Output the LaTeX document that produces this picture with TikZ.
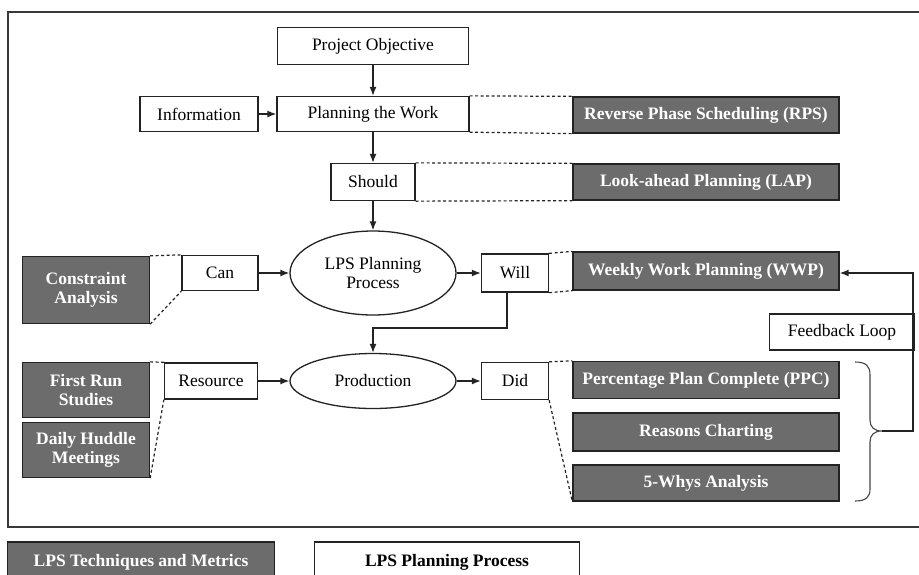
\documentclass[tikz,border=0pt]{standalone}
\usepackage{fontspec}
\setmainfont{Liberation Serif}
\usetikzlibrary{shapes.geometric,arrows.meta}
\definecolor{boxgray}{RGB}{108,108,108}
\definecolor{edgedark}{RGB}{35,35,35}
\tikzset{
  every node/.style={font=\fontsize{17.5}{19.5}\selectfont},
  wbox/.style={draw=edgedark, line width=1.3pt, fill=white, inner sep=0pt, text=black},
  gbox/.style={draw=edgedark, line width=1.3pt, fill=boxgray, inner sep=0pt, text=white, font=\fontsize{17.5}{19.5}\selectfont\bfseries},
  oval/.style={ellipse, draw=edgedark, line width=1.3pt, fill=white, inner sep=0pt, align=center},
  arr/.style={-{Latex[length=9pt,width=7pt]}, line width=1.4pt, draw=edgedark},
  dl/.style={line width=1.2pt, draw=edgedark, dash pattern=on 3pt off 2.5pt},
  frame/.style={line width=1.6pt, draw=edgedark!90},
  bracestyle/.style={line width=1.1pt, draw=edgedark!85},
}
\begin{document}
\begin{tikzpicture}[x=1pt,y=-1pt]
\useasboundingbox (0,0) rectangle (919,574);
\clip (0,0) rectangle (919,574);
% outer frame
\draw[frame] (919,12) -- (8,12) -- (8,527) -- (919,527);
% nodes
\node[wbox, minimum width=191, minimum height=37] (po) at (373,46) {Project Objective};
\node[wbox, minimum width=118, minimum height=35] (info) at (199,114) {Information};
\node[wbox, minimum width=192, minimum height=35] (pw) at (373,114) {Planning the Work};
\node[gbox, minimum width=266, minimum height=36] (rps) at (706,115) {Reverse Phase Scheduling (RPS)};
\node[wbox, minimum width=84, minimum height=37] (should) at (373,182) {Should};
\node[gbox, minimum width=266, minimum height=36] (lap) at (706,182) {Look-ahead Planning (LAP)};
\node[oval, minimum width=166, minimum height=84] (lpp) at (373,273) {LPS Planning\\Process};
\node[gbox, minimum width=127, minimum height=67, align=center] (ca) at (86,290) {Constraint\\Analysis};
\node[wbox, minimum width=76, minimum height=35] (can) at (220,273) {Can};
\node[wbox, minimum width=67, minimum height=38] (will) at (515,273) {Will};
\node[gbox, minimum width=266, minimum height=38] (wwp) at (706,271) {Weekly Work Planning (WWP)};
\node[wbox, minimum width=145, minimum height=36] (fbl) at (842,332) {Feedback Loop};
\node[oval, minimum width=166, minimum height=55] (prod) at (373,381) {Production};
\node[wbox, minimum width=93, minimum height=36] (res) at (211,381) {Resource};
\node[gbox, minimum width=127, minimum height=55, align=center] (frs) at (86,390) {First Run\\Studies};
\node[gbox, minimum width=127, minimum height=55, align=center] (dhm) at (86,450) {Daily Huddle\\Meetings};
\node[wbox, minimum width=67, minimum height=37] (did) at (515,381) {Did};
\node[gbox, minimum width=266, minimum height=37] (ppc) at (706,380) {Percentage Plan Complete (PPC)};
\node[gbox, minimum width=266, minimum height=38] (rc) at (706,432) {Reasons Charting};
\node[gbox, minimum width=266, minimum height=36] (fw) at (706,483) {5-Whys Analysis};
% legend
\node[gbox, minimum width=267, minimum height=40] (leg1) at (141,562) {LPS Techniques and Metrics};
\node[wbox, minimum width=265, minimum height=40, font=\fontsize{17.5}{19.5}\selectfont\bfseries] (leg2) at (447,562) {LPS Planning Process};
% arrows
\draw[arr] (po) -- (pw);
\draw[arr] (info) -- (pw);
\draw[arr] (pw) -- (should);
\draw[arr] (should) -- (lpp);
\draw[arr] (can) -- (lpp);
\draw[arr] (lpp) -- (will);
\draw[arr] (res) -- (prod);
\draw[arr] (prod) -- (did);
\coordinate (wb) at (507,328);
\draw[arr] (will.south -| wb) -- (wb) -| (prod.north);
% brace
\draw[bracestyle] (855,362) .. controls (866,362) and (870,366) .. (870,375)
  -- (870,420) .. controls (870,427) and (874,431) .. (882,431)
  .. controls (874,431) and (870,435) .. (870,442)
  -- (870,489) .. controls (870,497) and (866,501) .. (855,501);
% feedback loop
\coordinate (btip) at (882,431);
\coordinate (fbc) at (913,431);
\coordinate (fbt) at (913,273);
\draw[arr] (btip) -- (fbc) -- (fbt) -- (wwp.east |- fbt);
% dashed links
\draw[dl] (pw.north east) -- (rps.north west);
\draw[dl] (pw.south east) -- (rps.south west);
\draw[dl] (should.north east) -- (lap.north west);
\draw[dl] (should.south east) -- (lap.south west);
\draw[dl] (will.north east) -- (wwp.north west);
\draw[dl] (will.south east) -- (wwp.south west);
\draw[dl] (ca.north east) -- (can.north west);
\draw[dl] (ca.south east) -- (can.south west);
\draw[dl] (frs.north east) -- (res.north west);
\draw[dl] (dhm.south east) -- (res.south west);
\draw[dl] (did.north east) -- (ppc.north west);
\draw[dl] (did.south east) -- (fw.south west);
\end{tikzpicture}
\end{document}
